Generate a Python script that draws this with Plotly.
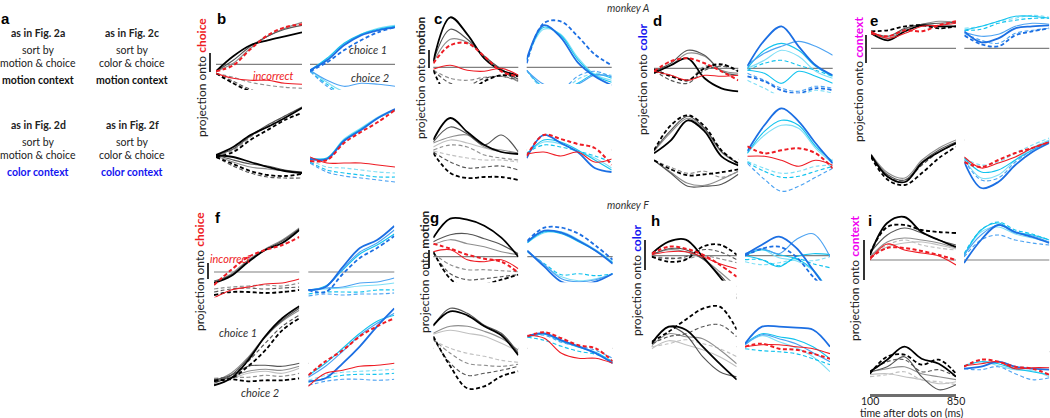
import plotly.graph_objects as go

W, H = 1050, 418

# time points (ms after dots on)
T = [100, 250, 400, 550, 700, 850]

# condition codes: level (1 = strongest) + s (choice 1, solid) / d (choice 2, dashed);
# "es"/"ed" = incorrect trials. Values are projections (a.u.).
B_TL = [("1s", [-7, 8, 19, 24, 28, 32]), ("2s", [-7, 4, 18, 28, 35, 39]), ("3s", [-7, 1, 16, 28, 36, 42]),
        ("ed", [-7, -1, 15, 29, 37, 40]), ("es", [-9, -14, -16, -16, -19, -20]),
        ("1d", [-9, -19, -27, -32, -31, -28]), ("2d", [-9, -17, -25, -30, -31, -31]), ("3d", [-9, -13, -18, -21, -23, -24])]
B_TR = [("1s", [-6, 4, 19, 29, 34, 37]), ("3s", [-6, 6, 21, 30, 35, 38]), ("4s", [-6, 5, 20, 30, 36, 39]),
        ("1d", [-7, 2, 14, 24, 32, 37]), ("2s", [-6, -16, -22, -19, -20, -22]), ("4s", [-6, -18, -27, -27, -27, -27]),
        ("3d", [-7, -20, -30, -31, -31, -30]), ("2d", [-7, -22, -32, -34, -33, -32])]
B_BL = [("1s", [1, 9, 21, 29, 38, 48]), ("2s", [1, 7, 20, 31, 40, 49]), ("1d", [-1, 4, 16, 26, 36, 43]),
        ("3d", [0, 6, 19, 30, 40, 48]), ("1s", [1, -1, -6, -11, -15, -17]), ("2s", [1, -4, -8, -10, -14, -16]),
        ("3s", [0, -6, -11, -13, -15, -17]), ("1d", [-1, -8, -15, -19, -20, -18]), ("2d", [-1, -10, -17, -21, -22, -22])]
B_BR = [("1s", [-3, -3, 15, 26, 38, 47]), ("3s", [-2, -2, 16, 27, 38, 46]), ("4s", [-3, -2, 17, 28, 39, 47]),
        ("ed", [-5, -4, 13, 24, 34, 46]), ("es", [-1, -7, -7, -7, -9, -11]), ("4d", [-4, -11, -12, -14, -16, -17]),
        ("3d", [-6, -14, -17, -19, -21, -21]), ("2d", [-7, -16, -20, -22, -24, -26])]

C_TL = [("1s", [6, 50, 33, 9, -3, -8]), ("2s", [6, 38, 28, 11, -2, -12]), ("3s", [5, 28, 25, 11, -3, -14]),
        ("ed", [4, 22, 24, 11, -4, -9]), ("es", [-2, 2, -3, -4, -1, -8]), ("1d", [-3, -30, -26, -14, -8, -9]),
        ("2d", [-3, -16, -18, -11, -9, -13]), ("3d", [-3, -11, -13, -10, -9, -14])]
C_TR = [("1s", [8, 42, 30, 5, -9, -18]), ("3s", [7, 40, 32, 8, -8, -15]), ("4s", [7, 38, 33, 10, -7, -13]),
        ("1d", [4, 44, 46, 31, 13, 2]), ("2s", [-3, -17, -22, -17, -8, -9]), ("3s", [-3, -20, -24, -16, -7, -11]),
        ("4d", [-3, -22, -25, -12, -6, -8]), ("2d", [-3, -20, -23, -9, -4, -10])]
C_BL = [("1s", [10, 32, 18, 5, -2, -4]), ("2s", [8, 23, 16, 5, 15, -2]), ("3s", [7, 13, 15, 3, 0, -3]),
        ("4s", [3, 10, 7, 2, -2, -3]), ("1d", [-3, -23, -28, -27, -27, -30]), ("2d", [-2, -12, -18, -17, -16, -20]),
        ("3d", [0, 5, 3, -5, -8, -10]), ("4d", [-1, -5, -8, -10, -10, -12])]
C_BR = [("1s", [-8, 15, 7, -2, -18, -22]), ("ed", [-6, 15, 11, 6, 2, -15]), ("3s", [-5, 10, 8, 0, -10, -20]),
        ("4s", [-4, 8, 6, -2, -8, -18]), ("es", [-4, -2, -6, -2, -12, -9]), ("3d", [-3, 5, 3, -1, -6, -12])]

D_TL = [("2s", [-3, 5, 18, 13, -3, -7]), ("1s", [-5, 3, 10, -10, -20, -23]), ("3s", [-3, 3, 15, 12, -2, -5]),
        ("ed", [-3, 7, 10, 5, -3, -12]), ("es", [-3, -7, -12, -7, -8, -7]), ("2d", [-2, -12, -15, -2, 2, -3]),
        ("3d", [-2, -7, -12, 2, 3, -2]), ("1d", [-1, -8, -12, 0, 4, -3])]
D_TR = [("1s", [2, 28, 42, 22, 3, -7]), ("2s", [3, 15, 22, 27, 22, 13]), ("3s", [0, 18, 25, 18, 2, -8]),
        ("4s", [0, 8, 18, 12, -3, -10]), ("3s", [-2, -5, -15, -3, -8, -15]), ("3d", [-2, 5, 8, 3, -2, -8]),
        ("1d", [-8, -13, -22, -25, -20, -22]), ("4d", [-12, -20, -28, -27, -22, -25]), ("2d", [-5, -12, -20, -23, -18, -20])]
D_BL = [("1d", [9, 34, 44, 33, 9, -4]), ("1s", [6, 19, 39, 28, 3, -6]), ("2s", [9, 29, 43, 31, 8, -4]),
        ("3s", [8, 27, 41, 30, 7, -4]), ("2s", [-1, -14, -27, -27, -25, -15]), ("3s", [-1, -13, -24, -26, -20, -12]),
        ("1d", [-1, -10, -16, -15, -13, -10]), ("3d", [-1, -8, -14, -12, -18, -12])]
D_BR = [("1s", [8, 34, 51, 38, 16, -4]), ("3s", [6, 28, 39, 34, 13, -2]), ("4s", [6, 24, 34, 31, 11, -4]),
        ("ed", [13, 6, 9, 11, 6, -9]), ("es", [3, 3, -1, -7, -1, -6]), ("4d", [-2, -9, -14, -12, -7, -6]),
        ("3d", [-3, -12, -18, -17, -12, -7]), ("2d", [-4, -20, -32, -27, -18, -9])]

E_TL = [("1s", [15, 8, 17, 23, 22, 22]), ("es", [17, 10, 15, 22, 23, 25]), ("ed", [15, 12, 18, 17, 23, 27]),
        ("1d", [17, 18, 22, 23, 20, 22]), ("2s", [16, 12, 20, 24, 25, 26]), ("3s", [16, 10, 19, 24, 27, 26])]
E_TR = [("3s", [18, 22, 27, 32, 32, 30]), ("1s", [17, 6, 10, 20, 22, 23]), ("2d", [15, 8, 5, 15, 18, 20]),
        ("1d", [13, 4, 2, 13, 17, 20]), ("4d", [20, 22, 27, 30, 33, 31]), ("3d", [18, 19, 25, 28, 30, 30]),
        ("2s", [16, 12, 14, 22, 25, 24])]
E_BL = [("1s", [-15, -37, -42, -23, -12, -3]), ("2s", [-15, -35, -40, -22, -10, -2]), ("3s", [-14, -33, -38, -20, -8, 0]),
        ("1d", [-17, -40, -45, -33, -18, -7]), ("2d", [-16, -37, -40, -25, -12, -4])]
E_BR = [("es", [-17, -28, -23, -17, -8, -2]), ("ed", [-22, -27, -20, -13, -8, -2]), ("3s", [-18, -32, -30, -20, -10, -2]),
        ("1s", [-22, -48, -42, -25, -12, -3]), ("2d", [-20, -40, -38, -22, -10, -1]), ("4d", [-18, -25, -22, -13, -5, 2]),
        ("4s", [-19, -38, -35, -20, -8, 0])]

F_TL = [("1s", [-11, -4, 10, 22, 29, 42]), ("2s", [-9, -3, 11, 22, 31, 43]), ("3s", [-10, -2, 12, 23, 32, 44]),
        ("ed", [-13, 2, 15, 22, 27, 35]), ("es", [-26, -18, -15, -12, -11, -7]), ("1d", [-23, -20, -20, -21, -20, -18]),
        ("2d", [-20, -17, -16, -17, -16, -15]), ("3d", [-17, -15, -14, -13, -14, -11])]
F_TR = [("1s", [-18, -15, 5, 24, 32, 46]), ("2s", [-18, -15, 3, 20, 29, 42]), ("3s", [-18, -14, 2, 18, 27, 38]),
        ("1d", [-18, -20, -2, 14, 24, 36]), ("2s", [-18, -16, -15, -11, -10, -6]), ("4s", [-19, -17, -16, -14, -13, -11]),
        ("3d", [-22, -20, -20, -20, -18, -18]), ("2d", [-24, -22, -23, -22, -22, -21])]
F_BL = [("1s", [-22, -15, 3, 27, 45, 57]), ("2s", [-20, -12, 5, 26, 43, 55]), ("3s", [-18, -10, 6, 27, 42, 53]),
        ("1d", [-17, -15, -3, 13, 33, 45]), ("2d", [-16, -12, 2, 20, 37, 48]), ("2s", [-17, -12, -3, -2, -3, 0]),
        ("3s", [-18, -14, -8, -6, -7, -3]), ("4s", [-16, -15, -10, -8, -10, -5]), ("1d", [-18, -16, -18, -17, -17, -15]),
        ("3d", [-15, -14, -14, -12, -13, -10])]
F_BR = [("1s", [-18, -15, 0, 17, 37, 55]), ("3s", [-12, 0, 15, 30, 42, 48]), ("ed", [-12, 2, 13, 27, 37, 45]),
        ("2s", [-14, -3, 12, 28, 40, 50]), ("es", [-23, -10, -7, -3, -2, 0]), ("4d", [-17, -12, -9, -8, -7, -6]),
        ("3d", [-19, -15, -12, -11, -11, -10]), ("2d", [-22, -18, -16, -16, -17, -16])]

G_TL = [("1s", [19, 38, 37, 31, 19, 0]), ("2s", [15, 22, 23, 18, 12, 3]), ("3s", [12, 17, 13, 10, 5, 2]),
        ("ed", [13, 8, 2, -2, -5, -16]), ("es", [5, 7, -3, -5, -3, -12]), ("1d", [5, -22, -32, -28, -23, -18]),
        ("2d", [4, -17, -23, -22, -20, -18]), ("3d", [3, -8, -13, -13, -14, -15])]
G_TR = [("1s", [15, 26, 24, 16, 6, -7]), ("3s", [14, 25, 23, 15, 6, -6]), ("4s", [14, 24, 25, 17, 7, -5]),
        ("1d", [16, 29, 29, 23, 11, -3]), ("1s", [6, -10, -25, -28, -25, -17]), ("2s", [6, -8, -22, -25, -23, -17]),
        ("3d", [5, -7, -18, -17, -19, -17]), ("4s", [6, -9, -20, -24, -22, -17])]
G_BL = [("1s", [23, 37, 33, 22, 13, -7]), ("2s", [22, 40, 35, 23, 15, -5]), ("3s", [15, 22, 22, 17, 10, -2]),
        ("4s", [14, 18, 15, 12, 5, -3]), ("1d", [12, -18, -40, -38, -28, -23]), ("2d", [10, -15, -27, -25, -22, -18]),
        ("3d", [9, -5, -15, -17, -18, -16]), ("4d", [8, 0, -5, -8, -12, -14])]
G_BR = [("ed", [12, 16, 10, 3, 0, -13]), ("1s", [12, 15, 8, 2, -5, -15]), ("3s", [11, 14, 7, 1, -4, -14]),
        ("es", [13, 10, -5, -10, -10, -15]), ("2d", [12, 13, 6, 2, -2, -10]), ("3d", [11, 8, 2, -3, -6, -13])]

H_TL = [("1s", [2, 14, 16, -1, -21, -43]), ("2s", [1, 7, 6, -3, -19, -39]), ("3s", [1, 6, 4, -3, -16, -31]),
        ("ed", [2, 9, 7, 1, -9, -21]), ("es", [1, 4, 4, -1, -8, -13]), ("1d", [-1, -6, -4, 9, 11, 1]),
        ("2d", [-1, -3, -1, 6, 4, -4]), ("3d", [-1, -2, -3, 0, -3, -7])]
H_TR = [("1s", [1, 11, 19, 8, -14, -38]), ("2s", [2, 7, 2, 16, 22, -1]), ("3s", [0, 6, 1, -3, -14, -38]),
        ("4s", [0, 6, -2, -5, -15, -40]), ("1d", [0, 7, 9, -1, -21, -38]), ("3d", [-4, -4, -10, -3, -8, -12]),
        ("4d", [-6, -9, -7, -4, -5, -1]), ("3s", [0, -4, -11, -1, 2, 1])]
H_BL = [("1s", [3, 20, 17, 0, -17, -33]), ("2s", [4, 20, 12, -10, -25, -30]), ("3s", [1, 13, 10, 8, -3, -17]),
        ("1d", [5, 15, 27, 38, 40, 17]), ("2d", [3, 10, 13, 20, 22, 10]), ("4d", [0, 3, 7, 3, -2, -10]),
        ("4s", [-2, 6, 2, -3, -10, -20])]
H_BR = [("1s", [3, 20, 20, 19, 17, 0]), ("3s", [3, 13, 10, 7, 0, -12]), ("4s", [2, 11, 5, -1, -10, -25]),
        ("es", [0, 2, 2, 0, -2, -7]), ("ed", [0, 3, -2, -3, -7, -12]), ("3d", [-2, -4, -5, -7, -12, -18]),
        ("2s", [2, 12, 8, 3, -6, -15])]

I_TL = [("1s", [5, 37, 43, 28, 20, 13]), ("2s", [7, 25, 32, 27, 20, 15]), ("3s", [3, 18, 22, 20, 17, 12]),
        ("1d", [7, 33, 35, 30, 28, 27]), ("4d", [5, 15, 20, 15, 12, 10]), ("ed", [2, 12, 12, 9, 5, 0]),
        ("es", [0, 16, 10, 7, 4, -5]), ("4s", [4, 13, 17, 18, 15, 11])]
I_TR = [("1s", [-3, 20, 35, 28, 23, 17]), ("2s", [5, 25, 35, 27, 24, 18]), ("3s", [4, 30, 37, 28, 25, 20]),
        ("4s", [5, 28, 33, 26, 22, 18]), ("2d", [3, 20, 25, 20, 17, 15]), ("3d", [6, 30, 38, 30, 26, 20])]
I_BL = [("1s", [-20, -8, 5, -7, -12, -25]), ("1d", [-22, -5, -3, -13, -8, -22]), ("2s", [-20, -15, -5, -25, -38, -33]),
        ("3s", [-20, -17, -15, -22, -25, -28]), ("4s", [-23, -22, -25, -28, -32, -30]), ("4d", [-25, -23, -20, -28, -30, -33]),
        ("2d", [-20, -10, -8, -20, -18, -25])]
I_BR = [("ed", [-15, -8, -10, -15, -17, -23]), ("1s", [-17, -15, -10, -15, -17, -18]), ("3s", [-14, -10, -12, -17, -20, -23]),
        ("es", [-14, -12, -10, -17, -16, -16]), ("2d", [-17, -18, -15, -22, -28, -26]), ("4s", [-15, -10, -14, -18, -19, -25])]

DATA = {
    "b": (B_TL, B_TR, B_BL, B_BR), "c": (C_TL, C_TR, C_BL, C_BR),
    "d": (D_TL, D_TR, D_BL, D_BR), "e": (E_TL, E_TR, E_BL, E_BR),
    "f": (F_TL, F_TR, F_BL, F_BR), "g": (G_TL, G_TR, G_BL, G_BR),
    "h": (H_TL, H_TR, H_BL, H_BR), "i": (I_TL, I_TR, I_BL, I_BR),
}

# ---------------- layout geometry (pixels) ----------------
GEOM = {
    "b": ((216, 302), (310, 395), (64.3, 156)),
    "c": ((433.3, 518.3), (526.7, 611.7), (67.3, 150)),
    "d": ((654, 738.3), (747.3, 832.7), (68.3, 159.3)),
    "e": ((871, 956), (964.3, 1049.3), (48.3, 140)),
    "f": ((214, 299.3), (308.3, 394.3), (272, 363.3)),
    "g": ((433.3, 518.3), (527.3, 612.7), (256.7, 348.3)),
    "h": ((651.7, 736.7), (745, 830), (255.7, 346.7)),
    "i": ((870, 956), (964, 1049.3), (260, 351.7)),
}

GRAY = {"1": "#000000", "2": "#555555", "3": "#8e8e8e", "4": "#c0c0c0"}
BLUE = {"1": "#1c6fe3", "2": "#4da3f2", "3": "#12c3ee", "4": "#7fdff6"}
RED = "#ee1c24"
FONT = "Lato, Open Sans, sans-serif"


def px(x, y):
    return x / W, 1 - y / H


fig = go.Figure()
layout = {}
shapes = []
n = 0
last_axes = None
for p, (xl, xr, zs) in GEOM.items():
    subs = DATA[p]
    for k, rows in enumerate(subs):
        n += 1
        top = k < 2
        left = k % 2 == 0
        x0, x1 = xl if left else xr
        z = zs[0] if top else zs[1]
        if top:
            tpx, bpx = max(0.0, z - 62), z + 50
        else:
            tpx, bpx = z - 66, min(H, z + 55)
            if p == "i":
                bpx = 394
        xa = "x" if n == 1 else f"x{n}"
        ya = "y" if n == 1 else f"y{n}"
        xkey = "xaxis" if n == 1 else f"xaxis{n}"
        ykey = "yaxis" if n == 1 else f"yaxis{n}"
        layout[xkey] = dict(domain=[x0 / W, x1 / W], range=[100, 850], visible=False,
                            anchor=ya, fixedrange=True)
        layout[ykey] = dict(domain=[1 - bpx / H, 1 - tpx / H], range=[-(bpx - z), z - tpx],
                            visible=False, anchor=xa, fixedrange=True)
        if p == "i" and k == 2:
            layout[xkey].update(visible=True, showline=True, linecolor="#6e6e6e", linewidth=3,
                                showgrid=False, zeroline=False, showticklabels=False, ticks="")
            last_axes = xa
        shapes.append(dict(type="line", xref=f"{xa} domain", yref=ya, x0=0, x1=1, y0=0, y1=0,
                           line=dict(color="#808080", width=1.2), layer="below"))
        pal = GRAY if left else BLUE
        # draw weaker first, strong and red last
        order = sorted(rows, key=lambda r: (r[0][0] == "e", -int(r[0][0]) if r[0][0] != "e" else 0))
        for code, vals in order:
            if code[0] == "e":
                color = RED
                dashed = code[1] == "d"
                width = 2.0 if dashed else 1.1
            else:
                color = pal[code[0]]
                dashed = code[1] == "d"
                width = 1.8 if code[0] == "1" else 1.15
            fig.add_trace(go.Scatter(
                x=T, y=vals, xaxis=xa, yaxis=ya, mode="lines",
                line=dict(color=color, width=width, shape="spline", smoothing=1.0,
                          dash="4px,2.5px" if dashed else "solid"),
                hoverinfo="skip", showlegend=False))

# scale bars
for (x, y0, y1) in [(210, 53, 72), (429, 50, 68), (866, 35, 63), (208, 263, 279),
                    (429, 250, 268), (645, 240, 270), (864, 240, 280)]:
    a = px(x, y0)
    b = px(x, y1)
    shapes.append(dict(type="line", xref="paper", yref="paper", x0=a[0], x1=b[0], y0=a[1], y1=b[1],
                       line=dict(color="black", width=1.6)))

ann = []


def text(x, y, s, size=10.5, color="#222", angle=0, xanchor="center", family=FONT):
    a, b = px(x, y)
    ann.append(dict(x=a, y=b, xref="paper", yref="paper", text=s, showarrow=False,
                    xanchor=xanchor, yanchor="middle", textangle=angle,
                    font=dict(size=size, color=color, family=family)))


# panel letters
for L, (x, y) in {"a": (5, 18), "b": (221, 18), "c": (438, 19), "d": (657, 21), "e": (874, 21),
                  "f": (218, 217), "g": (434, 218), "h": (655, 220), "i": (870, 220)}.items():
    text(x, y, f"<b>{L}</b>", size=15, color="black", family="Liberation Sans, Arial, sans-serif")

# panel a description
BLUE_TXT = "#1414f0"
for cx, fig_ref, sortby in [(38, "2a", "motion & choice"), (132, "2c", "color & choice")]:
    text(cx, 33, f"<b>as in Fig. {fig_ref}</b>")
    text(cx, 50, "sort by")
    text(cx, 63, sortby)
    text(cx, 80, "<b>motion context</b>", color="#111")
for cx, fig_ref, sortby in [(38, "2d", "motion & choice"), (132, "2f", "color & choice")]:
    text(cx, 125, f"<b>as in Fig. {fig_ref}</b>")
    text(cx, 142, "sort by")
    text(cx, 155, sortby)
    text(cx, 172, "<b>color context</b>", color=BLUE_TXT)

# monkey labels
text(628, 8, "<i>monkey A</i>", size=10.5, color="#333")
text(628, 205, "<i>monkey F</i>", size=10.5, color="#333")

# y labels
LAB = {
    "choice": f"projection onto <b><span style='color:{RED}'>choice</span></b>",
    "motion": "projection onto <b>motion</b>",
    "color": f"projection onto <b><span style='color:{BLUE_TXT}'>color</span></b>",
    "context": "projection onto <b><span style='color:#f000f0'>context</span></b>",
}
for (x, y, key) in [(202, 78, "choice"), (421, 78, "motion"), (642, 79, "color"), (858, 80, "context"),
                    (199, 272, "choice"), (424, 272, "motion"), (636, 280, "color"), (854, 279, "context")]:
    text(x, y, LAB[key], size=12, color="#222", angle=-90)

# in-plot labels
text(273, 75, "<i>incorrect</i>", color=RED, size=11)
text(368, 49, "<i>choice 1</i>", color="#333", size=11)
text(370, 77, "<i>choice 2</i>", color="#333", size=11)
text(230, 258, "<i>incorrect</i>", color=RED, size=11)
text(238, 332, "<i>choice 1</i>", color="#333", size=11)
text(260, 392, "<i>choice 2</i>", color="#333", size=11)

# time axis labels
for tv in (T[0], T[-1]):
    ann.append(dict(x=tv, y=1 - 400.5 / H, xref=last_axes, yref="paper", text=str(tv), showarrow=False,
                    xanchor="center", yanchor="middle", font=dict(size=10.5, color="#222", family=FONT)))
text(911, 412.5, "time after dots on (ms)", size=10.5)

fig.update_layout(
    width=W, height=H, margin=dict(l=0, r=0, t=0, b=0),
    paper_bgcolor="white", plot_bgcolor="white",
    shapes=shapes, annotations=ann, showlegend=False,
    **layout,
)
fig.write_html("out.html", config={"displayModeBar": False},
               post_script="document.body.style.margin='0';document.body.style.padding='0';")
